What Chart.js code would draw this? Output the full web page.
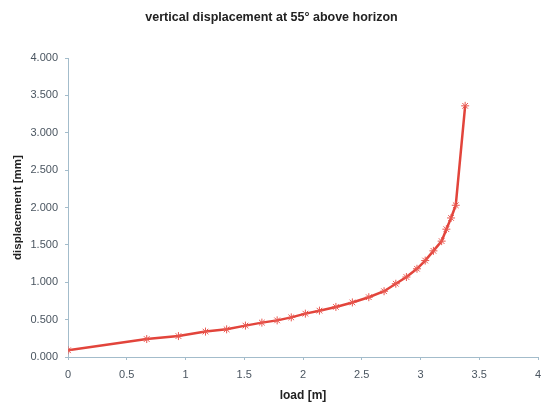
<!DOCTYPE html>
<html>
<head>
<meta charset="utf-8">
<script src="https://cdn.jsdelivr.net/npm/chart.js@4/dist/chart.umd.min.js"></script>
<style>
  html, body { margin: 0; padding: 0; background: #fff; }
  #wrap { width: 543px; height: 403px; }
</style>
</head>
<body>
<div id="wrap"><canvas id="line-canvas" width="543" height="403"></canvas></div>
<script>
// load [m] and vertical displacement [mm]
var load = [0, 0.67, 0.94, 1.17, 1.35, 1.51, 1.65, 1.78, 1.90, 2.02, 2.14, 2.28, 2.42, 2.56, 2.69, 2.79, 2.88, 2.97, 3.04, 3.11, 3.18, 3.22, 3.26, 3.30, 3.38];
var displacement = [0.09, 0.24, 0.28, 0.34, 0.37, 0.42, 0.46, 0.49, 0.53, 0.58, 0.62, 0.67, 0.73, 0.80, 0.88, 0.98, 1.07, 1.18, 1.29, 1.42, 1.55, 1.71, 1.86, 2.03, 3.36];

var points = [];
for (var i in load) {
  points.push({ x: load[i], y: displacement[i] });
}

var axisColor = "#a3bccb";
var ctx = document.getElementById("line-canvas");

var chart = new Chart(ctx, {
  type: "scatter",
  data: {
    datasets: [{
      label: "displacement",
      data: points,
      showLine: true,
      borderColor: "#e2443b",
      backgroundColor: "#e2443b",
      borderWidth: 2.5,
      pointStyle: "star",
      pointRadius: 4,
      pointBorderWidth: 1,
      pointBorderColor: "#e8574f",
      tension: 0
    }]
  },
  options: {
    responsive: false,
    animation: false,
    layout: { padding: { left: 0, right: 0, top: 0, bottom: 0 } },
    plugins: {
      legend: { display: false },
      tooltip: { enabled: false },
      title: {
        display: true,
        text: "vertical displacement at 55\u00b0 above horizon",
        color: "#222",
        font: { family: "Liberation Sans, Arial", size: 12.5, weight: "bold" },
        padding: { top: 10, bottom: 33 }
      }
    },
    scales: {
      x: {
        type: "linear",
        min: 0,
        max: 4,
        afterFit: function(scale) {
          scale.height = 46;
          scale.paddingRight = 1;
        },
        ticks: {
          stepSize: 0.5,
          color: "#4a5560",
          font: { family: "Liberation Sans, Arial", size: 11 },
          padding: 8,
          callback: function(v) { return String(v); }
        },
        grid: { drawOnChartArea: false, drawTicks: true, tickLength: 3, color: axisColor },
        border: { color: axisColor, width: 1 },
        title: {
          display: true,
          text: "load [m]",
          color: "#222",
          font: { family: "Liberation Sans, Arial", size: 12, weight: "bold" },
          padding: { top: 0, bottom: 0 }
        }
      },
      y: {
        type: "linear",
        min: 0,
        max: 4,
        afterFit: function(scale) { scale.width = 68; },
        ticks: {
          stepSize: 0.5,
          color: "#4a5560",
          font: { family: "Liberation Sans, Arial", size: 11 },
          padding: 7,
          callback: function(v) { return v.toFixed(3); }
        },
        grid: { drawOnChartArea: false, drawTicks: true, tickLength: 3, color: axisColor },
        border: { color: axisColor, width: 1 },
        title: {
          display: true,
          text: "displacement [mm]",
          color: "#222",
          font: { family: "Liberation Sans, Arial", size: 11.5, weight: "bold" },
          padding: { top: 11, bottom: 0 }
        }
      }
    }
  }
});
</script>
</body>
</html>
